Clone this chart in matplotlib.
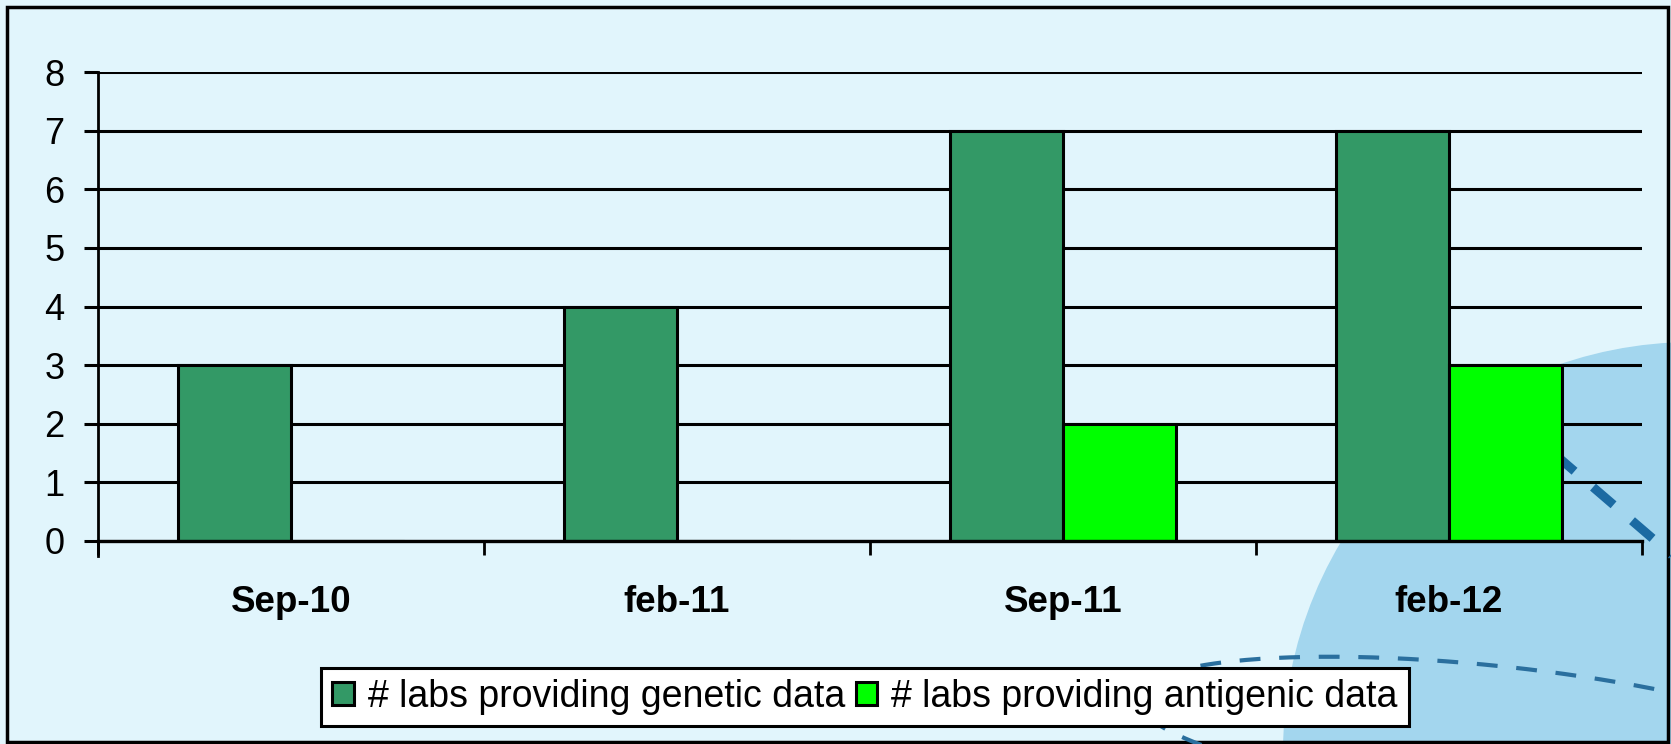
import matplotlib
matplotlib.use("Agg")
import matplotlib.pyplot as plt
from matplotlib.patches import Circle, Rectangle
import numpy as np

categories = ["Sep-10", "feb-11", "Sep-11", "feb-12"]
genetic = [3, 4, 7, 7]
antigenic = [0, 0, 2, 3]
series_names = ["# labs providing genetic data", "# labs providing antigenic data"]
yticks = [0, 1, 2, 3, 4, 5, 6, 7, 8]

W, H = 1671, 744
DPI = 100
plt.rcParams['font.family'] = ['Liberation Sans', 'DejaVu Sans']

fig = plt.figure(figsize=(W / DPI, H / DPI), dpi=DPI)
fig.patch.set_facecolor('#E1F5FC')

# background decoration axes in pixel coords
bg = fig.add_axes([0, 0, 1, 1], zorder=0)
bg.set_xlim(0, W)
bg.set_ylim(H, 0)
bg.axis('off')
bg.set_facecolor('none')
bg.add_patch(Circle((1693, 752), 410, facecolor='#A3D6EE', edgecolor='none'))
# thin dashed tilted ellipse
t = np.linspace(np.radians(120), np.radians(320), 400)
cx, cy, a, b, phi = 1495, 735, 360, 69, np.radians(6)
ex = cx + a * np.cos(t) * np.cos(phi) - b * np.sin(t) * np.sin(phi)
ey = cy + a * np.cos(t) * np.sin(phi) + b * np.sin(t) * np.cos(phi)
bg.plot(ex, ey, color='#2A6F9E', lw=3, linestyle=(0, (5, 4.5)))
# thick dashed line
bg.plot([1515, 1680], [420, 562], color='#1B6AA2', lw=6.5, linestyle=(0, (3, 2.7)))
# outer border
bg.add_patch(Rectangle((7, 7), W - 10, H - 9, fill=False, edgecolor='black', lw=2.5))

ax = fig.add_axes([98 / W, (H - 541) / H, (1642 - 98) / W, (541 - 72) / H], zorder=2)
ax.set_facecolor('none')

x = np.arange(len(categories)) + 0.5
bw = 0.293
ax.bar(x - bw / 2, genetic, width=bw, color='#339966', edgecolor='black', lw=2.2, zorder=3,
       label=series_names[0])
ax.bar(x + bw / 2, antigenic, width=bw, color='#00FF00', edgecolor='black', lw=2.2, zorder=3,
       label=series_names[1])

ax.set_xlim(0, len(categories))
ax.set_ylim(0, 8)
ax.set_yticks(yticks)
ax.set_yticklabels([str(v) for v in yticks], fontsize=26)
ax.yaxis.grid(True, color='black', lw=2.2, zorder=1)
ax.set_axisbelow(True)
for s in ['top', 'right', 'bottom']:
    ax.spines[s].set_visible(False)
ax.spines['left'].set_linewidth(2)
ax.spines['left'].set_bounds(-0.25, 8)
ax.spines['left'].set_zorder(4)
ax.tick_params(axis='y', length=10, width=2.2, pad=14)

ax.set_xticks(np.arange(len(categories) + 1))
ax.set_xticklabels([])
ax.set_xticks(x, minor=True)
ax.set_xticklabels(categories, minor=True, fontsize=26.5, fontweight='bold')
ax.tick_params(axis='x', which='major', length=10, width=2, direction='out')
ax.tick_params(axis='x', which='minor', length=0, pad=32)
ax.axhline(0, color='black', lw=2.4, zorder=4, clip_on=False)

handles, labels = ax.get_legend_handles_labels()
leg = fig.legend(handles, labels, loc='center', bbox_to_anchor=(865 / W, (H - 697) / H),
                 ncol=2, fontsize=27, frameon=True, fancybox=False, framealpha=1,
                 edgecolor='black', handlelength=0.57, handleheight=0.57, handletextpad=0.37,
                 columnspacing=0.3, borderpad=0.3, borderaxespad=0)
leg.get_frame().set_linewidth(2.2)
leg.set_zorder(5)

fig.savefig('out.png', dpi=DPI, facecolor=fig.get_facecolor())
